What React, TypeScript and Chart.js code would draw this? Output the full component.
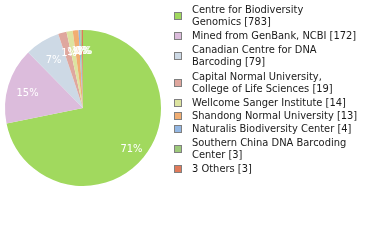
import React, { useEffect, useRef } from "react";
import { Chart, registerables } from "chart.js";

Chart.register(...registerables);

// multi-line category labels, as Chart.js accepts them (array = lines)
const categories: string[][] = [
  ["Centre for Biodiversity", "Genomics"],
  ["Mined from GenBank, NCBI"],
  ["Canadian Centre for DNA", "Barcoding"],
  ["Capital Normal University,", "College of Life Sciences"],
  ["Wellcome Sanger Institute"],
  ["Shandong Normal University"],
  ["Naturalis Biodiversity Center"],
  ["Southern China DNA Barcoding", "Center"],
  ["3 Others"],
];
const counts = [783, 172, 79, 19, 14, 13, 4, 3, 3];
const colors = [
  "#a1d95e",
  "#dcbcdc",
  "#cdd9e5",
  "#dfa79e",
  "#dde4a0",
  "#f1ae72",
  "#93b7e3",
  "#9dc97a",
  "#e07a5a",
];

const FONT = "11px 'DejaVu Sans Condensed', 'DejaVu Sans', sans-serif";

const pieLabels = {
  id: "pieLabels",
  afterDatasetsDraw(chart: any) {
    const ctx = chart.ctx as CanvasRenderingContext2D;
    const meta = chart.getDatasetMeta(0);
    const data = chart.data.datasets[0].data as number[];
    const total = data.reduce((a, b) => a + b, 0);
    ctx.save();
    ctx.font = FONT;
    ctx.fillStyle = "#ffffff";
    ctx.textAlign = "center";
    ctx.textBaseline = "middle";
    meta.data.forEach((arc: any, i: number) => {
      const p = arc.getProps(["startAngle", "endAngle", "outerRadius", "x", "y"], true);
      const mid = (p.startAngle + p.endAngle) / 2;
      const r = p.outerRadius * 0.77;
      const pct = Math.floor((data[i] / total) * 100);
      ctx.fillText(pct + "%", p.x + Math.cos(mid) * r + 2, p.y + Math.sin(mid) * r + 3);
    });
    ctx.restore();
  },
};

const sideLegend = {
  id: "sideLegend",
  afterDraw(chart: any) {
    const ctx = chart.ctx as CanvasRenderingContext2D;
    const labels = chart.data.labels as string[][];
    const data = chart.data.datasets[0].data as number[];
    const bg = chart.data.datasets[0].backgroundColor as string[];
    ctx.save();
    ctx.font = FONT;
    ctx.textAlign = "left";
    ctx.textBaseline = "middle";
    const boxX = 174;
    const textX = 192;
    const lineH = 12;
    let y = 2.8;
    labels.forEach((lab, i) => {
      const lines = lab.slice();
      lines[lines.length - 1] = `${lines[lines.length - 1]} [${data[i]}]`;
      const h = lines.length > 1 ? 27 : 13;
      const cy = y + h / 2;
      ctx.fillStyle = bg[i];
      ctx.fillRect(boxX, Math.round(cy - 4), 8, 8);
      ctx.strokeStyle = "#808080";
      ctx.lineWidth = 1;
      ctx.strokeRect(boxX + 0.5, Math.round(cy - 4) + 0.5, 7, 7);
      ctx.fillStyle = "#1a1a1a";
      const first = cy - ((lines.length - 1) * lineH) / 2;
      lines.forEach((ln, j) => ctx.fillText(ln, textX, first + j * lineH));
      y += h;
    });
    ctx.restore();
  },
};

export default function App() {
  const ref = useRef<HTMLCanvasElement>(null);
  useEffect(() => {
    if (!ref.current) return;
    const chart = new Chart(ref.current, {
      type: "pie",
      data: {
        labels: categories as any,
        datasets: [
          {
            data: counts,
            backgroundColor: colors,
            borderWidth: 0,
          },
        ],
      },
      options: {
        responsive: false,
        animation: false,
        layout: { padding: { left: 5, top: 30, right: 219, bottom: 54 } },
        plugins: {
          legend: { display: false },
          tooltip: { enabled: false },
        },
      },
      plugins: [pieLabels, sideLegend],
    });
    return () => chart.destroy();
  }, []);
  return (
    <div style={{ position: "fixed", left: 0, top: 0, width: 380, height: 240, background: "#fff" }}>
      <canvas ref={ref} width={380} height={240} style={{ width: 380, height: 240 }} />
    </div>
  );
}
